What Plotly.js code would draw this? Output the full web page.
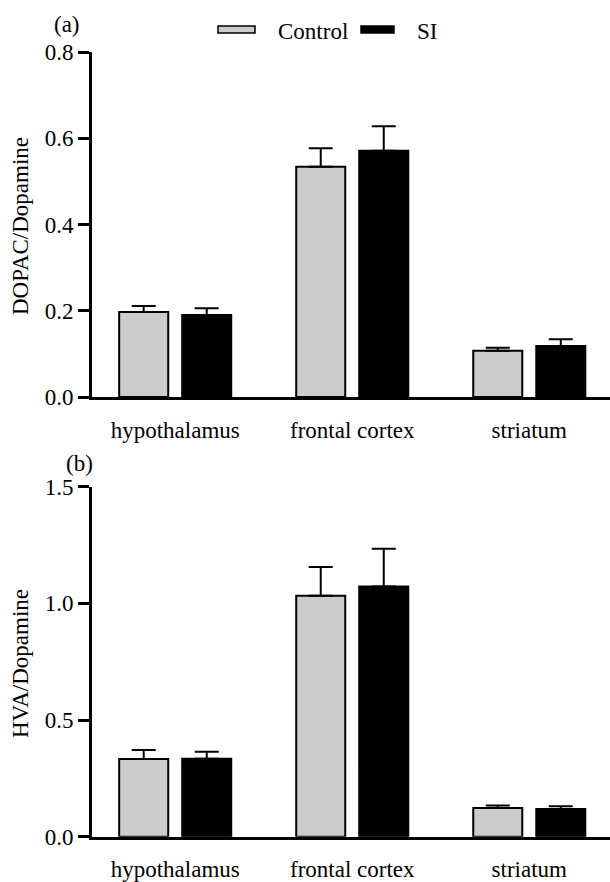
<!DOCTYPE html>
<html>
<head>
<meta charset="utf-8">
<script src="https://cdn.plot.ly/plotly-3.0.1.min.js"></script>
<style>
  html, body { margin: 0; padding: 0; background: #fff; }
  #chart { width: 610px; height: 882px; }
</style>
</head>
<body>
<div id="chart"></div>
<script>
// Brain regions and groups
const categories = ['hypothalamus', 'frontal cortex', 'striatum'];
const seriesNames = ['Control', 'SI'];

// (a) DOPAC/Dopamine ratio: means and SEM
const dopacControl = [0.197, 0.534, 0.107];
const dopacControlErr = [0.014, 0.043, 0.007];
const dopacSI = [0.190, 0.571, 0.118];
const dopacSIErr = [0.016, 0.057, 0.016];

// (b) HVA/Dopamine ratio: means and SEM
const hvaControl = [0.333, 1.033, 0.123];
const hvaControlErr = [0.039, 0.123, 0.011];
const hvaSI = [0.334, 1.072, 0.119];
const hvaSIErr = [0.030, 0.162, 0.012];

// Axis ticks
const dopacTicks = [0, 0.2, 0.4, 0.6, 0.8];
const dopacTickText = ['0.0', '0.2', '0.4', '0.6', '0.8'];
const hvaTicks = [0, 0.5, 1.0, 1.5];
const hvaTickText = ['0.0', '0.5', '1.0', '1.5'];

const panelLabels = ['(a)', '(b)'];
const yTitles = ['DOPAC/Dopamine', 'HVA/Dopamine'];

const seriesColors = ['#cccccc', '#000000'];
const FONT = '"Liberation Serif", serif';
const FS = 23;

// page geometry helpers (pixels -> paper fractions)
const W = 610, H = 882, ML = 92, MR = 0;
const px = v => (v - ML) / (W - ML - MR);
const py = v => 1 - v / H;

function barTrace(vals, errs, idx, xa, ya) {
  return {
    type: 'bar',
    x: categories,
    y: vals,
    name: seriesNames[idx],
    xaxis: xa,
    yaxis: ya,
    showlegend: false,
    marker: { color: seriesColors[idx], line: { color: '#000', width: 2 } },
    error_y: {
      type: 'data', symmetric: false,
      array: errs, arrayminus: errs.map(() => 0),
      color: '#000', thickness: 2, width: 12
    },
    hoverinfo: 'x+y'
  };
}

const data = [
  barTrace(dopacControl, dopacControlErr, 0, 'x', 'y'),
  barTrace(dopacSI, dopacSIErr, 1, 'x', 'y'),
  barTrace(hvaControl, hvaControlErr, 0, 'x2', 'y2'),
  barTrace(hvaSI, hvaSIErr, 1, 'x2', 'y2')
];

const xCommon = {
  type: 'category',
  range: [-0.47, 2.456],
  showline: true, linecolor: '#000', linewidth: 3,
  ticks: '', showgrid: false, zeroline: false,
  ticklabelstandoff: 10,
  tickfont: { family: FONT, size: FS, color: '#000' },
  fixedrange: true
};
const yCommon = {
  showline: true, linecolor: '#000', linewidth: 3,
  ticks: 'outside', ticklen: 11, tickwidth: 3, tickcolor: '#000',
  showgrid: false, zeroline: false,
  tickfont: { family: FONT, size: FS, color: '#000' },
  fixedrange: true
};

const ann = (text, x, y, extra) => Object.assign({
  text: text, xref: 'paper', yref: 'paper', x: x, y: y,
  showarrow: false, font: { family: FONT, size: FS, color: '#000' }
}, extra);

const layout = {
  width: W, height: H,
  margin: { l: ML, r: MR, t: 0, b: 0 },
  paper_bgcolor: '#fff', plot_bgcolor: '#fff',
  barmode: 'group', bargap: 0.288, bargroupgap: 0.222,
  font: { family: FONT, size: FS, color: '#000' },
  showlegend: false,
  xaxis: Object.assign({}, xCommon, { domain: [0, 1], anchor: 'y' }),
  yaxis: Object.assign({}, yCommon, {
    domain: [py(397), py(52)], range: [0, 0.8],
    tickvals: dopacTicks, ticktext: dopacTickText, anchor: 'x'
  }),
  xaxis2: Object.assign({}, xCommon, { domain: [0, 1], anchor: 'y2' }),
  yaxis2: Object.assign({}, yCommon, {
    domain: [py(836.7), py(486.7)], range: [0, 1.5],
    tickvals: hvaTicks, ticktext: hvaTickText, anchor: 'x2'
  }),
  shapes: [
    { type: 'rect', xref: 'paper', yref: 'paper',
      x0: px(218), x1: px(255), y0: py(33), y1: py(26),
      fillcolor: seriesColors[0], line: { color: '#000', width: 1.5 } },
    { type: 'rect', xref: 'paper', yref: 'paper',
      x0: px(361), x1: px(394), y0: py(33), y1: py(26),
      fillcolor: seriesColors[1], line: { color: '#000', width: 1.5 } }
  ],
  annotations: [
    ann(seriesNames[0], px(276), py(31), { xanchor: 'left', yanchor: 'middle' }),
    ann(seriesNames[1], px(415), py(31), { xanchor: 'left', yanchor: 'middle' }),
    ann(panelLabels[0], px(67), py(24), { xanchor: 'center', yanchor: 'middle' }),
    ann(panelLabels[1], px(79), py(464), { xanchor: 'center', yanchor: 'middle' }),
    ann(yTitles[0], px(20), py(226), { xanchor: 'center', yanchor: 'middle', textangle: -90 }),
    ann(yTitles[1], px(20), py(664), { xanchor: 'center', yanchor: 'middle', textangle: -90 })
  ]
};

Plotly.newPlot('chart', data, layout, { displayModeBar: false, staticPlot: true });
</script>
</body>
</html>
